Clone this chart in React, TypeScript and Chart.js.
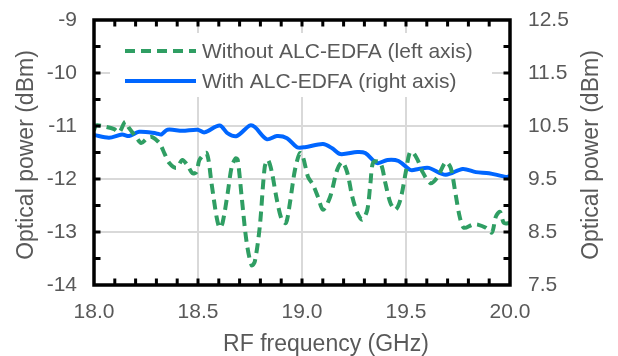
import React, { useEffect, useRef } from "react";
import { Chart, registerables } from "chart.js";

Chart.register(...registerables);

// Without ALC-EDFA (left axis)
const greenX = [18.000, 18.010, 18.048, 18.097, 18.121, 18.150, 18.169, 18.203, 18.227, 18.256, 18.280, 18.314, 18.338, 18.362, 18.396, 18.425, 18.449, 18.473, 18.493, 18.507, 18.541, 18.565, 18.589, 18.604, 18.618, 18.643, 18.662, 18.681, 18.691, 18.710, 18.734, 18.758, 18.773, 18.797, 18.821, 18.836, 18.855, 18.879, 18.903, 18.923, 18.942, 18.966, 18.990, 19.005, 19.029, 19.053, 19.077, 19.101, 19.135, 19.169, 19.193, 19.217, 19.242, 19.266, 19.290, 19.314, 19.329, 19.343, 19.377, 19.401, 19.425, 19.449, 19.473, 19.498, 19.517, 19.531, 19.556, 19.580, 19.618, 19.652, 19.691, 19.715, 19.739, 19.758, 19.778, 19.821, 19.845, 19.884, 19.913, 19.932, 19.952, 19.971, 20.000];
const greenY = [-11.08, -10.99, -11.01, -11.06, -11.12, -10.92, -11.04, -11.21, -11.32, -11.23, -11.21, -11.32, -11.51, -11.70, -11.79, -11.64, -11.74, -11.89, -11.87, -11.64, -11.51, -12.08, -12.71, -12.92, -12.83, -12.26, -11.77, -11.61, -11.64, -12.34, -13.20, -13.63, -13.56, -12.90, -11.77, -11.64, -11.87, -12.39, -12.77, -12.83, -12.45, -11.83, -11.51, -11.59, -11.96, -12.11, -12.34, -12.58, -12.34, -11.83, -11.68, -11.87, -12.34, -12.64, -12.77, -12.58, -12.08, -11.68, -11.70, -12.08, -12.45, -12.58, -12.39, -11.89, -11.51, -11.49, -11.64, -11.87, -12.08, -11.96, -11.68, -11.79, -12.30, -12.71, -12.92, -12.86, -12.86, -12.92, -13.01, -12.71, -12.62, -12.83, -12.83];

// With ALC-EDFA (right axis)
const blueX = [18.000, 18.072, 18.135, 18.169, 18.217, 18.300, 18.324, 18.353, 18.425, 18.498, 18.531, 18.604, 18.643, 18.686, 18.749, 18.773, 18.831, 18.879, 18.928, 18.976, 19.014, 19.101, 19.145, 19.184, 19.266, 19.304, 19.362, 19.411, 19.464, 19.522, 19.560, 19.609, 19.691, 19.773, 19.836, 19.899, 19.981, 20.000];
const blueY = [10.33, 10.28, 10.34, 10.31, 10.39, 10.36, 10.34, 10.43, 10.41, 10.43, 10.38, 10.51, 10.36, 10.31, 10.51, 10.48, 10.25, 10.31, 10.27, 10.10, 10.10, 10.16, 10.08, 9.97, 10.01, 9.99, 9.80, 9.86, 9.84, 9.67, 9.69, 9.71, 9.58, 9.69, 9.63, 9.61, 9.54, 9.56];

const leftTicks = [-14, -13, -12, -11, -10, -9];
const rightTicks = [7.5, 8.5, 9.5, 10.5, 11.5, 12.5];
const xTicks = [18.0, 18.5, 19.0, 19.5, 20.0];

const seriesLabels = ["Without ALC-EDFA (left axis)", "With ALC-EDFA (right axis)"];
const xTitle = "RF frequency (GHz)";
const yTitle = "Optical power (dBm)";

const GREEN = "#2f9e63";
const BLUE = "#0066ff";
const GRAY = "#595959";
const FONT = "'Liberation Sans', Arial, sans-serif";

const decorPlugin = {
  id: "decor",
  beforeDatasetsDraw(chart: any) {
    const ctx = chart.ctx;
    ctx.save();
    ctx.fillStyle = "#ffffff";
    ctx.fillRect(110, 33, 382, 64);
    ctx.restore();
  },
  afterDatasetsDraw(chart: any) {
    const ctx = chart.ctx;
    const a = chart.chartArea;
    const xs = chart.scales.x;
    const yl = chart.scales.y;
    ctx.save();
    ctx.strokeStyle = "#000";
    ctx.lineWidth = 3;
    ctx.lineCap = "butt";
    const tl = 6.5;
    for (let i = 1; i < 20; i++) {
      const px = xs.getPixelForValue(18 + i * 0.1);
      ctx.beginPath();
      ctx.moveTo(px, a.bottom);
      ctx.lineTo(px, a.bottom - tl);
      ctx.moveTo(px, a.top);
      ctx.lineTo(px, a.top + tl);
      ctx.stroke();
    }
    for (let i = 1; i < 10; i++) {
      const py = yl.getPixelForValue(-14 + i * 0.5);
      ctx.beginPath();
      ctx.moveTo(a.left, py);
      ctx.lineTo(a.left + tl, py);
      ctx.moveTo(a.right, py);
      ctx.lineTo(a.right - tl, py);
      ctx.stroke();
    }
    ctx.lineWidth = 3.5;
    ctx.strokeRect(a.left, a.top, a.right - a.left, a.bottom - a.top);

    ctx.lineWidth = 4;
    ctx.strokeStyle = GREEN;
    ctx.setLineDash([10, 6]);
    ctx.beginPath();
    ctx.moveTo(125, 51);
    ctx.lineTo(196, 51);
    ctx.stroke();
    ctx.setLineDash([]);
    ctx.strokeStyle = BLUE;
    ctx.beginPath();
    ctx.moveTo(125, 81);
    ctx.lineTo(196, 81);
    ctx.stroke();
    ctx.fillStyle = GRAY;
    ctx.font = `21px ${FONT}`;
    ctx.textAlign = "left";
    ctx.textBaseline = "alphabetic";
    ctx.fillText(seriesLabels[0], 202, 58);
    ctx.fillText(seriesLabels[1], 202, 88);
    ctx.restore();
  },
  afterDraw(chart: any) {
    const ctx = chart.ctx;
    ctx.save();
    ctx.fillStyle = GRAY;
    ctx.font = `23px ${FONT}`;
    ctx.textBaseline = "alphabetic";
    ctx.textAlign = "center";
    ctx.fillText(xTitle, 326, 351);
    ctx.save();
    ctx.translate(33, 155);
    ctx.rotate(-Math.PI / 2);
    ctx.fillText(yTitle, 0, 0);
    ctx.restore();
    ctx.save();
    ctx.translate(598, 155);
    ctx.rotate(-Math.PI / 2);
    ctx.fillText(yTitle, 0, 0);
    ctx.restore();
    ctx.restore();
  },
};

export default function App() {
  const ref = useRef<HTMLCanvasElement | null>(null);
  useEffect(() => {
    if (!ref.current) return;
    const tickFont = { family: FONT, size: 21 };
    const chart = new Chart(ref.current, {
      type: "line",
      data: {
        datasets: [
          {
            label: seriesLabels[0],
            data: greenX.map((x, i) => ({ x, y: greenY[i] })),
            borderColor: GREEN,
            borderWidth: 4,
            borderDash: [10, 6],
            pointRadius: 0,
            tension: 0.3,
            yAxisID: "y",
            fill: false,
          },
          {
            label: seriesLabels[1],
            data: blueX.map((x, i) => ({ x, y: blueY[i] })),
            borderColor: BLUE,
            borderWidth: 4,
            pointRadius: 0,
            tension: 0.3,
            yAxisID: "y2",
            fill: false,
          },
        ],
      },
      options: {
        animation: false,
        responsive: true,
        maintainAspectRatio: false,
        layout: { padding: { top: 20, left: 0, right: 0, bottom: 0 } },
        plugins: { legend: { display: false }, tooltip: { enabled: false } },
        scales: {
          x: {
            type: "linear",
            min: 18,
            max: 20,
            afterBuildTicks: (s: any) => {
              s.ticks = xTicks.map((v) => ({ value: v }));
            },
            afterFit: (s: any) => {
              s.height = 71;
              s.paddingLeft = 0;
              s.paddingRight = 0;
            },
            ticks: {
              font: tickFont,
              color: GRAY,
              padding: 15,
              maxRotation: 0,
              autoSkip: false,
              callback: (v: any) => Number(v).toFixed(1),
            },
            grid: { color: "#d9d9d9", lineWidth: 2, drawTicks: false },
            border: { display: false },
          },
          y: {
            type: "linear",
            position: "left",
            min: -14,
            max: -9,
            afterBuildTicks: (s: any) => {
              s.ticks = leftTicks.map((v) => ({ value: v }));
            },
            afterFit: (s: any) => {
              s.width = 94;
              s.paddingTop = 0;
              s.paddingBottom = 0;
            },
            ticks: { font: tickFont, color: GRAY, padding: 17, callback: (v: any) => String(v) },
            grid: { color: "#d9d9d9", lineWidth: 2, drawTicks: false },
            border: { display: false },
          },
          y2: {
            type: "linear",
            position: "right",
            min: 7.5,
            max: 12.5,
            afterBuildTicks: (s: any) => {
              s.ticks = rightTicks.map((v) => ({ value: v }));
            },
            afterFit: (s: any) => {
              s.width = 108;
              s.paddingTop = 0;
              s.paddingBottom = 0;
            },
            ticks: { font: tickFont, color: GRAY, padding: 18, callback: (v: any) => Number(v).toFixed(1) },
            grid: { drawOnChartArea: false, drawTicks: false },
            border: { display: false },
          },
        },
      },
      plugins: [decorPlugin],
    } as any);
    return () => chart.destroy();
  }, []);
  return (
    <div style={{ position: "absolute", left: 0, top: 0, width: 618, height: 356, background: "#fff" }}>
      <canvas ref={ref} />
    </div>
  );
}
